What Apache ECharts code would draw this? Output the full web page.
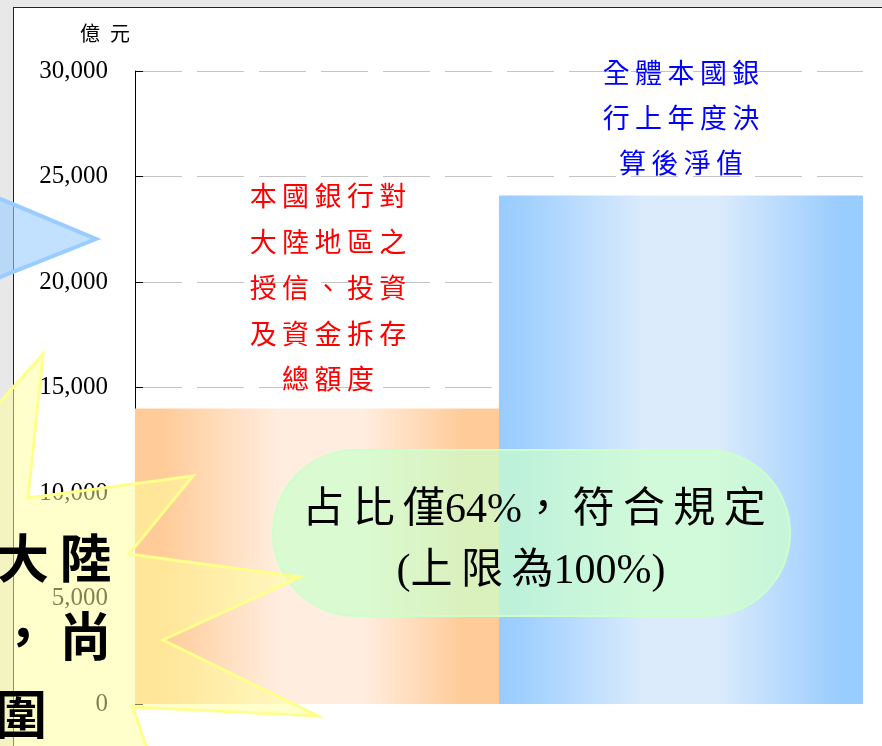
<!DOCTYPE html>
<html>
<head>
<meta charset="utf-8">
<script src="https://cdn.jsdelivr.net/npm/echarts@6/dist/echarts.min.js"></script>
<style>
html,body{margin:0;padding:0;width:882px;height:746px;background:#e8e8e8;overflow:hidden;}
#slide{position:absolute;left:13px;top:7px;width:880px;height:750px;background:#fff;border-left:1px solid #222;border-top:1px solid #222;}
#chart{position:absolute;left:0;top:0;width:882px;height:746px;}
</style>
</head>
<body>
<div id="slide"></div>
<div id="chart"></div>
<script>
const categories = ['本國銀行對大陸地區之授信、投資及資金拆存總額度', '全體本國銀行上年度決算後淨值'];
const values = [14000, 24100];
const yMin = 0, yMax = 30000, yStep = 5000;
const unitLabel = '億\u2002元';
const redLines = ['本國銀行對', '大陸地區之', '授信、投資', '及資金拆存', '總額度'];
const blueLines = ['全體本國銀', '行上年度決', '算後淨值'];
const noteLines = ['占比僅64%，符合規定', '(上限為100%)'];
const burstLines = ['大陸', '，尚', '圍'];

const sp = s => s.split('').join('\u2009');
const spCJK = s => s.replace(/([\u3000-\u9fff\uff00-\uffef])(?=[\u3000-\u9fff\uff00-\uffef])/g, '$1\u2009');

const chart = echarts.init(document.getElementById('chart'), null, {renderer: 'canvas'});

const orangeGrad = new echarts.graphic.LinearGradient(0, 0, 1, 0, [
  {offset: 0, color: '#ffcc99'}, {offset: 0.08, color: '#ffcc99'},
  {offset: 0.40, color: '#ffeee0'}, {offset: 0.62, color: '#ffeee0'},
  {offset: 0.90, color: '#ffcc99'}, {offset: 1, color: '#ffcc99'}
]);
const blueGrad = new echarts.graphic.LinearGradient(0, 0, 1, 0, [
  {offset: 0, color: '#99ccff'}, {offset: 0.06, color: '#9fcfff'},
  {offset: 0.40, color: '#dbebfc'}, {offset: 0.60, color: '#dbebfc'},
  {offset: 0.94, color: '#99ccff'}, {offset: 1, color: '#99ccff'}
]);
const grads = [orangeGrad, blueGrad];

const cjk = '"Liberation Serif", "Noto Sans CJK TC", serif';
const bigFont = 'bold 52px "Noto Sans CJK TC"';

chart.setOption({
  animation: false,
  backgroundColor: 'transparent',
  grid: {left: 135, right: 19, top: 71, bottom: 42, containLabel: false},
  xAxis: {
    type: 'category', data: categories, show: false
  },
  yAxis: {
    type: 'value', min: yMin, max: yMax, interval: yStep,
    axisLine: {show: true, lineStyle: {color: '#000', width: 1}},
    axisTick: {show: true, inside: true, length: 8, lineStyle: {color: '#000'}},
    axisLabel: {
      margin: 27, color: '#000', fontFamily: 'Liberation Serif', fontSize: 25,
      formatter: v => v.toLocaleString('en-US')
    },
    splitLine: {show: true, showMinLine: false, lineStyle: {color: '#c4c4c4', width: 1, type: [47, 15]}}
  },
  series: [{
    type: 'bar',
    barCategoryGap: 0,
    barWidth: '100%',
    data: values.map((v, i) => ({value: v, itemStyle: {color: grads[i]}})),
    z: 2
  }],
  graphic: {
    elements: [
      {type: 'text', z: 50, style: {text: unitLabel, x: 80, y: 33, font: '20px "Noto Sans CJK TC"', fill: '#000', textAlign: 'left', textVerticalAlign: 'middle', align: 'left', verticalAlign: 'middle'}},
      {type: 'text', z: 50, style: {text: redLines.map(sp).join('\n'), x: 328, y: 173, font: '27px "Noto Sans CJK TC"', lineHeight: 45.8, fill: '#ff0000', textAlign: 'center', textVerticalAlign: 'top', align: 'center', verticalAlign: 'top'}},
      {type: 'text', z: 50, style: {text: blueLines.map(sp).join('\n'), x: 681, y: 50, font: '27px "Noto Sans CJK TC"', lineHeight: 45, fill: '#0000ff', textAlign: 'center', textVerticalAlign: 'top', align: 'center', verticalAlign: 'top'}},
      {type: 'rect', z: 60, shape: {x: 273, y: 450, width: 517, height: 166, r: 83}, style: {fill: 'rgba(204,255,204,0.72)', stroke: '#ccffcc', lineWidth: 2}},
      {type: 'text', z: 61, style: {text: spCJK(noteLines[0]), x: 534, y: 511, font: '42px ' + cjk, fill: '#000', textAlign: 'center', textVerticalAlign: 'middle', align: 'center', verticalAlign: 'middle'}},
      {type: 'text', z: 61, style: {text: spCJK(noteLines[1]), x: 531, y: 572, font: '42px ' + cjk, fill: '#000', textAlign: 'center', textVerticalAlign: 'middle', align: 'center', verticalAlign: 'middle'}},
      {type: 'polygon', z: 70, shape: {points: [[-10, 408], [0, 402], [43, 354], [28, 498], [193, 476], [129, 554], [300, 577], [163, 640], [318, 716], [133, 707], [148, 752], [-10, 752]]}, style: {fill: 'rgba(255,255,153,0.5)', stroke: '#ffff8c', lineWidth: 3}},
      {type: 'text', z: 71, style: {text: sp(burstLines[0]), x: -3, y: 558, font: bigFont, fill: '#000', textAlign: 'left', textVerticalAlign: 'middle', align: 'left', verticalAlign: 'middle'}},
      {type: 'text', z: 71, style: {text: sp(burstLines[1]), x: -3, y: 636, font: bigFont, fill: '#000', textAlign: 'left', textVerticalAlign: 'middle', align: 'left', verticalAlign: 'middle'}},
      {type: 'text', z: 71, style: {text: burstLines[2], x: -5, y: 714, font: bigFont, fill: '#000', textAlign: 'left', textVerticalAlign: 'middle', align: 'left', verticalAlign: 'middle'}},
      {type: 'polygon', z: 72, shape: {points: [[-40, 182], [96, 239], [-40, 293]]}, style: {fill: 'rgba(153,204,255,0.6)', stroke: '#99ccff', lineWidth: 4}}
    ]
  }
});
</script>
</body>
</html>
